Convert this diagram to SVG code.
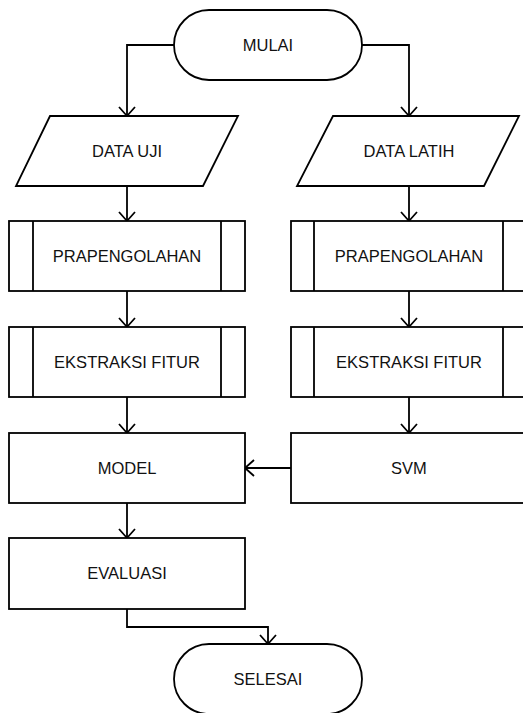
<svg xmlns="http://www.w3.org/2000/svg" width="523" height="713" viewBox="0 0 523 713">
<style>
.s{fill:#fff;stroke:#000;stroke-width:1.8;stroke-linejoin:miter}
.c{fill:none;stroke:#000;stroke-width:1.8}
text{font-family:"Liberation Sans",Arial,sans-serif;font-size:16.5px;fill:#111;text-anchor:middle}
</style>
<defs>
<marker id="a" markerUnits="userSpaceOnUse" markerWidth="20" markerHeight="20" viewBox="-10 -10 20 20" refX="0" refY="0" orient="auto">
<path d="M-9,-8 L0,0 L-9,8" fill="none" stroke="#000" stroke-width="1.8"/>
</marker>
</defs>
<rect width="523" height="713" fill="#fff"/>
<g id="connectors">
<path class="c" d="M174,45 H127 V116" marker-end="url(#a)"/>
<path class="c" d="M362,45 H409 V116" marker-end="url(#a)"/>
<path class="c" d="M127,186 V221" marker-end="url(#a)"/>
<path class="c" d="M409,186 V221" marker-end="url(#a)"/>
<path class="c" d="M127,291 V327" marker-end="url(#a)"/>
<path class="c" d="M409,291 V327" marker-end="url(#a)"/>
<path class="c" d="M127,397 V433" marker-end="url(#a)"/>
<path class="c" d="M409,397 V433" marker-end="url(#a)"/>
<path class="c" d="M291,468 H245" marker-end="url(#a)"/>
<path class="c" d="M127,503 V538" marker-end="url(#a)"/>
<path class="c" d="M127,609 V627 H268 V644" marker-end="url(#a)"/>
</g>
<g id="mulai">
<rect class="s" x="174" y="10" width="188" height="70" rx="35" ry="35"/>
<text x="268" y="51">MULAI</text>
</g>
<g id="data-uji">
<polygon class="s" points="50,116 238,116 203,186 16,186"/>
<text x="127" y="157">DATA UJI</text>
</g>
<g id="data-latih">
<polygon class="s" points="333,116 519,116 484,186 297,186"/>
<text x="409" y="157">DATA LATIH</text>
</g>
<g id="prap-kiri">
<rect class="s" x="9" y="221" width="236" height="70"/>
<line class="c" x1="33" y1="221" x2="33" y2="291"/>
<line class="c" x1="221" y1="221" x2="221" y2="291"/>
<text x="127" y="262">PRAPENGOLAHAN</text>
</g>
<g id="prap-kanan">
<rect class="s" x="291" y="221" width="236" height="70"/>
<line class="c" x1="314" y1="221" x2="314" y2="291"/>
<line class="c" x1="503" y1="221" x2="503" y2="291"/>
<text x="409" y="262">PRAPENGOLAHAN</text>
</g>
<g id="eks-kiri">
<rect class="s" x="9" y="327" width="236" height="70"/>
<line class="c" x1="33" y1="327" x2="33" y2="397"/>
<line class="c" x1="221" y1="327" x2="221" y2="397"/>
<text x="127" y="368">EKSTRAKSI FITUR</text>
</g>
<g id="eks-kanan">
<rect class="s" x="291" y="327" width="236" height="70"/>
<line class="c" x1="314" y1="327" x2="314" y2="397"/>
<line class="c" x1="503" y1="327" x2="503" y2="397"/>
<text x="409" y="368">EKSTRAKSI FITUR</text>
</g>
<g id="model">
<rect class="s" x="9" y="433" width="236" height="70"/>
<text x="127" y="474">MODEL</text>
</g>
<g id="svm">
<rect class="s" x="291" y="433" width="236" height="70"/>
<text x="409" y="474">SVM</text>
</g>
<g id="evaluasi">
<rect class="s" x="9" y="538" width="236" height="71"/>
<text x="127" y="579">EVALUASI</text>
</g>
<g id="selesai">
<rect class="s" x="174" y="644" width="188" height="70" rx="35" ry="35"/>
<text x="268" y="685">SELESAI</text>
</g>
</svg>
